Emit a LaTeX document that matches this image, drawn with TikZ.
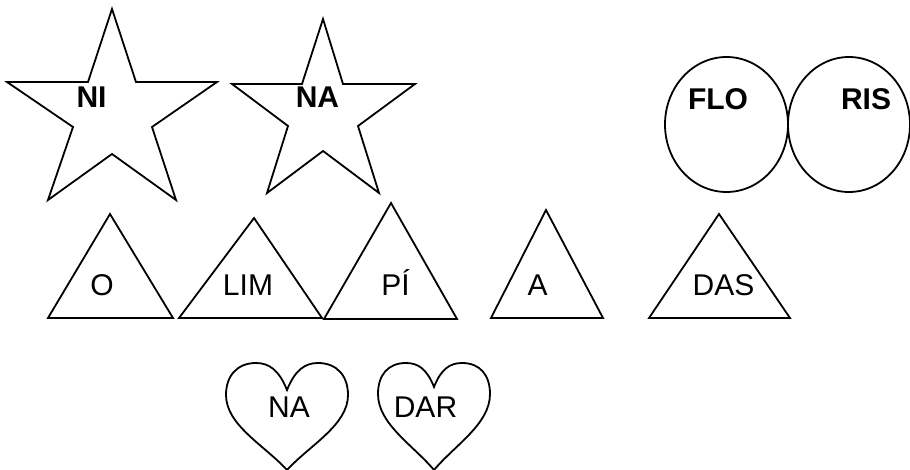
\documentclass[tikz,border=0pt]{standalone}
\usepackage{fontspec}
\setmainfont{Liberation Sans}
\begin{document}
\begin{tikzpicture}[x=1pt,y=-1pt,
  outline/.style={draw=black, line width=1.8pt, line join=miter},
  lbl/.style={font=\fontsize{30}{36}\selectfont, anchor=base, inner sep=0pt},
  blbl/.style={lbl, font=\fontsize{30}{36}\selectfont\bfseries}]
\useasboundingbox (0,0) rectangle (910,470);
\fill[white] (0,0) rectangle (910,470);
% stars
\draw[outline] (112,9) -- (136,82) -- (217,82) -- (152,127) -- (176,200) -- (112,154) -- (48,200) -- (73,127) -- (7,82) -- (88,82) -- cycle;
\draw[outline] (323,19) -- (343,84) -- (415,84) -- (358,126) -- (379,193) -- (323,151) -- (267,193) -- (288,126) -- (232,84) -- (302,84) -- cycle;
% ellipses
\draw[outline] (726.5,124.5) ellipse [x radius=61.5, y radius=67.5];
\draw[outline] (849,124.5) ellipse [x radius=61, y radius=67.5];
% triangles
\draw[outline] (110,214) -- (173,318) -- (48,318) -- cycle;
\draw[outline] (254,218) -- (322,318) -- (179,318) -- cycle;
\draw[outline] (391,203) -- (457,319) -- (324,319) -- cycle;
\draw[outline] (546,210) -- (603,318) -- (491,318) -- cycle;
\draw[outline] (719,214) -- (790,318) -- (649,318) -- cycle;
% hearts
\draw[outline] (287,390) .. controls (295,370) and (305,363) .. (318,363)
  .. controls (337,363) and (348,376) .. (348,395)
  .. controls (348,425) and (310,445) .. (287,470)
  .. controls (264,445) and (226,425) .. (226,395)
  .. controls (226,376) and (237,363) .. (256,363)
  .. controls (269,363) and (279,370) .. (287,390) -- cycle;
\draw[outline] (434,387) .. controls (441,369) and (450,363) .. (462,363)
  .. controls (480,363) and (490,375) .. (490,394)
  .. controls (490,424) and (455,445) .. (434,470)
  .. controls (413,445) and (378,424) .. (378,394)
  .. controls (378,375) and (388,363) .. (406,363)
  .. controls (418,363) and (427,369) .. (434,387) -- cycle;
% labels
\node[blbl] (ni) at (91.5,108) {NI};
\node[blbl] (na1) at (317.5,108) {NA};
\node[blbl] (flo) at (718,110) {FLO};
\node[blbl] (ris) at (866,110) {RIS};
\node[lbl] (o) at (102,295) {O};
\node[lbl] (lim) at (248,295) {LIM};
\node[lbl] (pi) at (395.5,295) {PÍ};
\node[lbl] (a) at (537.5,295) {A};
\node[lbl] (das) at (723.5,295) {DAS};
\node[lbl] (na2) at (289,417) {NA};
\node[lbl] (dar) at (425.5,417) {DAR};
\end{tikzpicture}
\end{document}
